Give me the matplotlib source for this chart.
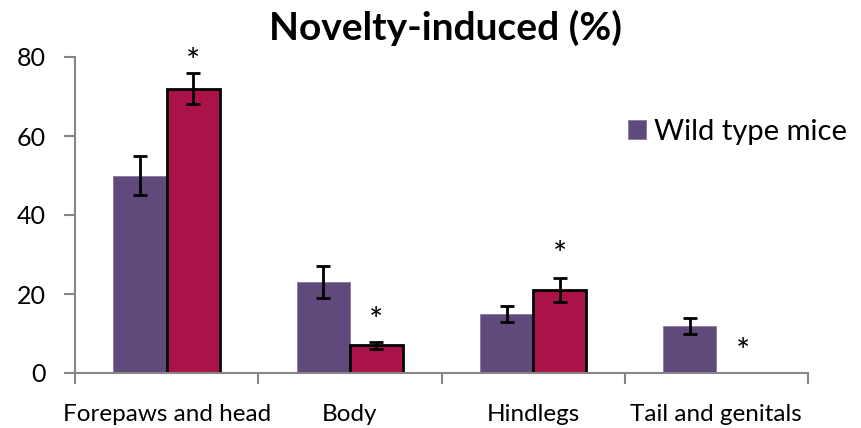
import matplotlib
matplotlib.use("Agg")
import matplotlib.pyplot as plt
import numpy as np

plt.rcParams['font.family'] = ['Lato', 'DejaVu Sans']

# donnees
categories = ["Forepaws and head", "Body", "Hindlegs", "Tail and genitals"]
wild = [50, 23, 15, 12]
wild_err = [5, 4, 2, 2]
other = [72, 7, 21, 0]
other_err = [4, 0.8, 3, 0]
star_y = [78.5, 13, 29.5, 5]

purple = '#604A7B'
crimson = '#AB1249'
grey = '#868686'

fig = plt.figure(figsize=(8.61, 4.28), dpi=100)
ax = fig.add_axes([75/861, 55/428, 733/861, 316/428])

x = np.arange(len(categories))
w = 0.29
ax.bar(x - w/2, wild, w, color=purple, edgecolor='#8a78a0', linewidth=0.6,
       label='Wild type mice', zorder=2)
ax.errorbar(x - w/2, wild, yerr=wild_err, fmt='none', ecolor='black',
            elinewidth=2, capsize=5, capthick=2, zorder=3)

keep = [i for i, v in enumerate(other) if v > 0]
ax.bar(x[keep] + w/2, [other[i] for i in keep], w, color=crimson,
       edgecolor='black', linewidth=2, zorder=2)
ax.errorbar(x[keep] + w/2, [other[i] for i in keep],
            yerr=[other_err[i] for i in keep], fmt='none', ecolor='black',
            elinewidth=2, capsize=5, capthick=2, zorder=3)

# etoiles de significativite
for xi, yi in zip(x + w/2, star_y):
    ax.text(xi, yi, '*', ha='center', va='center', fontsize=24, color='black')

ax.set_xlim(-0.5, len(categories) - 0.5)
ax.set_ylim(0, 80)
ax.set_yticks([0, 20, 40, 60, 80])
ax.set_xticks(x)
ax.set_xticklabels(categories)
ax.set_xticks(np.arange(len(categories) + 1) - 0.5, minor=True)

ax.tick_params(axis='x', which='major', length=0, pad=22, labelsize=17.5)
ax.tick_params(axis='x', which='minor', length=8, color=grey, width=1.5, direction='out')
ax.tick_params(axis='y', length=8, color=grey, width=1.5, pad=13, labelsize=18)

for s in ['top', 'right']:
    ax.spines[s].set_visible(False)
for s in ['left', 'bottom']:
    ax.spines[s].set_color(grey)
    ax.spines[s].set_linewidth(1.5)

fig.text(446/861, 1 - 28/428, 'Novelty-induced (%)', ha='center', va='center',
         fontsize=28, fontweight='bold')

fig.legend(loc='center left', bbox_to_anchor=(628/861, 1 - 132/428),
           frameon=False, fontsize=21, handlelength=0.6, handleheight=0.6,
           handletextpad=0.3, borderpad=0, borderaxespad=0)

fig.savefig('out.png', dpi=100)
